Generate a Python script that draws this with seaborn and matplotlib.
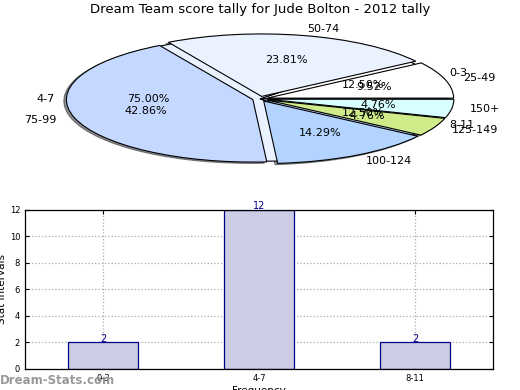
import numpy as np
import pandas as pd
import matplotlib
matplotlib.use('Agg')
import matplotlib.pyplot as plt
import seaborn as sns

# ================= data =================
inner_labels = ['0-3', '4-7', '8-11']
inner_counts = [2, 12, 2]

outer_labels = ['25-49', '50-74', '75-99', '100-124', '125-149', '150+']
outer_counts = [2, 5, 9, 3, 1, 1]

bar_cats = ['0-3', '4-7', '8-11']
bar_vals = [2, 12, 2]

TITLE = 'Dream Team score tally for Jude Bolton - 2012 tally'

# ================= colours =================
PIE_COLORS = ['#ffffff', '#eaf1ff', '#c5d8ff', '#b3d4ff', '#d0eb8a', '#d8ffff']
BAR_FILL = '#ccccE4'
BAR_EDGE = '#00008b'

plt.rcParams['font.family'] = 'DejaVu Sans'

fig = plt.figure(figsize=(5.2, 3.9), dpi=100)
fig.patch.set_facecolor('white')

# -------------------- pie (two overlaid pies) --------------------
ax_pie = fig.add_axes([0.0625, 0.535, 0.875, 0.423])
wp = dict(edgecolor='black', linewidth=0.8)
ax_pie.pie(inner_counts, labels=inner_labels, colors=PIE_COLORS[:3],
           autopct='%.2f%%', startangle=0, wedgeprops=wp,
           textprops=dict(fontsize=8))
ax_pie.pie(outer_counts, labels=outer_labels, colors=PIE_COLORS,
           autopct='%.2f%%', startangle=0, explode=[0.04] * len(outer_counts),
           shadow={'ox': -0.01, 'oy': -0.015, 'shade': 0.85},
           wedgeprops=wp, textprops=dict(fontsize=8))
ax_pie.set_aspect('auto')
ax_pie.set_xlim(-1.22, 1.22)
ax_pie.set_ylim(-1.32, 1.32)
fig.text(0.5, 1 - 10 / 390, TITLE, ha='center', va='center', fontsize=9.5)

# -------------------- bar chart --------------------
ax_bar = fig.add_axes([0.048, 0.054, 0.9, 0.408])
df_bar = pd.DataFrame({'Frequency': bar_cats, 'Count': bar_vals})
sns.barplot(data=df_bar, x='Frequency', y='Count', ax=ax_bar, color=BAR_FILL,
            saturation=1, edgecolor=BAR_EDGE, linewidth=0.9, width=0.45, zorder=2)
for i, v in enumerate(bar_vals):
    ax_bar.text(i, v - 0.1, str(v), ha='center', va='bottom', color=BAR_EDGE, fontsize=7, zorder=3)
ax_bar.set_xlim(-0.5, 2.5)
ax_bar.set_ylim(0, 12)
ax_bar.set_yticks(range(0, 13, 2))
ax_bar.grid(True, linestyle=':', color='#aaaaaa', linewidth=0.9, zorder=0)
ax_bar.set_axisbelow(True)
ax_bar.tick_params(direction='in', labelsize=6, length=3, top=True, right=True)
ax_bar.set_ylabel('Stat Intervals', fontsize=7.5, labelpad=2)
ax_bar.set_xlabel('Frequency', fontsize=7.5, labelpad=2)
for s in ax_bar.spines.values():
    s.set_color('black')
    s.set_linewidth(0.9)

fig.text(0.0, 0.015, 'Dream-Stats.com', color='#999999', fontsize=8.5, fontweight='bold')

plt.savefig('out.png', dpi=100)
